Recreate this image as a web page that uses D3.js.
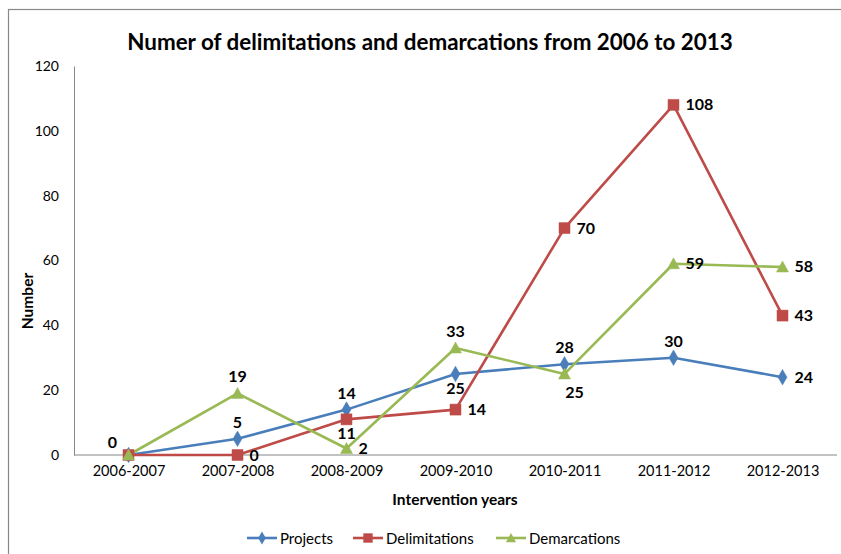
<!DOCTYPE html>
<html><head><meta charset="utf-8">
<script src="https://cdn.jsdelivr.net/npm/d3@7"></script>
<style>html,body{margin:0;padding:0;background:#fff;}svg{display:block;font-family:Lato,"Open Sans",sans-serif;}</style>
</head><body><svg id="c" width="841" height="554"></svg>
<script>
const categories = ["2006-2007","2007-2008","2008-2009","2009-2010","2010-2011","2011-2012","2012-2013"];
const projects = [0,5,14,25,28,30,24];
const delimitations = [0,0,11,14,70,108,43];
const demarcations = [0,19,2,33,25,59,58];
const yTicks = [0,20,40,60,80,100,120];
const projectsLabelPos = ["aboveleft","above","above","below","above","above","right"];
const delimitationsLabelPos = [null,"right","below","right","right","right","right"];
const demarcationsLabelPos = [null,"above","right","above","belowright","right","right"];

const series = [
  {name:"Projects", values:projects, pos:projectsLabelPos, color:"#4A7EBB", marker:"diamond"},
  {name:"Delimitations", values:delimitations, pos:delimitationsLabelPos, color:"#BE4B48", marker:"square"},
  {name:"Demarcations", values:demarcations, pos:demarcationsLabelPos, color:"#98B954", marker:"triangle"}
];

const FONT = "Lato,'Open Sans',sans-serif";
const svg = d3.select("#c");
svg.append("rect").attr("x",8.5).attr("y",9.5).attr("width",900).attr("height",600)
  .attr("fill","none").attr("stroke","#888").attr("stroke-width",1.2);

const pLeft=74, pRight=837, pTop=66, pBottom=455;
const x = d3.scalePoint().domain(categories).range([pLeft,pRight]).padding(0.5);
const y = d3.scaleLinear().domain([0,120]).range([pBottom,pTop]);

svg.append("text").attr("x",430).attr("y",50).attr("text-anchor","middle")
  .attr("font-size",22.4).attr("font-weight","bold").attr("fill","#000")
  .text("Numer of delimitations and demarcations from 2006 to 2013");

const gy = svg.append("g").attr("transform",`translate(${pLeft},0)`)
  .call(d3.axisLeft(y).tickValues(yTicks).tickSize(0).tickPadding(15));
gy.select(".domain").attr("stroke","#868686");
gy.selectAll("text").attr("font-size",14).attr("fill","#000").attr("font-family",FONT);

const gx = svg.append("g").attr("transform",`translate(0,${pBottom})`)
  .call(d3.axisBottom(x).tickSize(0).tickPadding(11));
gx.select(".domain").attr("stroke","#868686").attr("d",`M${pLeft},0H${pRight}`);
gx.selectAll("text").attr("font-size",14.5).attr("fill","#000").attr("font-family",FONT);

svg.append("text").attr("x",455).attr("y",505).attr("text-anchor","middle")
  .attr("font-size",15.5).attr("font-weight","bold").text("Intervention years");
svg.append("text").attr("transform","translate(33,301) rotate(-90)").attr("text-anchor","middle")
  .attr("font-size",15.5).attr("font-weight","bold").text("Number");

function markerPath(type){
  if(type==="diamond") return d3.symbol().type(d3.symbolDiamond).size(70)();
  if(type==="square") return "M-5.5,-5.5H5.5V5.5H-5.5Z";
  return "M0,-6L6,5H-6Z";
}

const line = d3.line().x((d,i)=>x(categories[i])).y(d=>y(d));
series.forEach(s=>{
  svg.append("path").datum(s.values).attr("d",line).attr("fill","none")
    .attr("stroke",s.color).attr("stroke-width",2.6).attr("stroke-linejoin","round");
});
series.forEach(s=>{
  svg.selectAll(null).data(s.values).enter().append("path")
    .attr("d",markerPath(s.marker))
    .attr("transform",(d,i)=>`translate(${x(categories[i])},${y(d)})`)
    .attr("fill",s.color).attr("stroke",s.color).attr("stroke-width",0.5);
});
series.forEach(s=>{
  s.values.forEach((v,i)=>{
    const p = s.pos[i]; if(!p) return;
    const px = x(categories[i]), py = y(v);
    let tx=px, ty=py, anchor="middle";
    if(p==="above"){ty=py-11;}
    else if(p==="below"){ty=py+20;}
    else if(p==="right"){tx=px+12; ty=py+5.5; anchor="start";}
    else if(p==="aboveleft"){tx=px-16; ty=py-7;}
    else if(p==="belowright"){tx=px+10; ty=py+24;}
    svg.append("text").attr("x",tx).attr("y",ty).attr("text-anchor",anchor)
      .attr("font-size",16).attr("font-weight","bold").attr("fill","#000").text(v);
  });
});

const legendX = [247,353,496];
series.forEach((s,k)=>{
  const g = svg.append("g").attr("transform",`translate(${legendX[k]},538)`);
  g.append("line").attr("x1",0).attr("x2",30).attr("y1",0).attr("y2",0)
    .attr("stroke",s.color).attr("stroke-width",2.6);
  g.append("path").attr("d",markerPath(s.marker)).attr("transform","translate(15,0) scale(0.85)")
    .attr("fill",s.color);
  g.append("text").attr("x",33).attr("y",5.5).attr("font-size",15).attr("fill","#000").text(s.name);
});
</script></body></html>
